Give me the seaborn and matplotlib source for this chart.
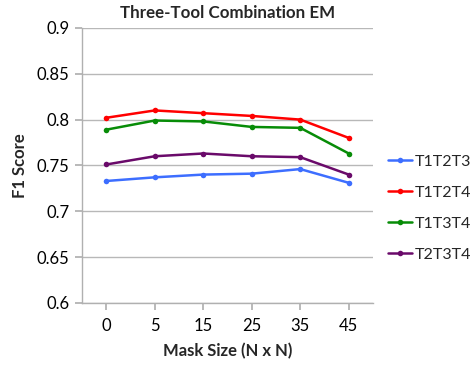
import matplotlib
matplotlib.use("Agg")
import matplotlib.pyplot as plt
import seaborn as sns
import pandas as pd

# Mask sizes (categorical x axis) and F1 scores for each three-tool combination
mask_sizes = ["0", "5", "15", "25", "35", "45"]
t1t2t3 = [0.733, 0.737, 0.740, 0.741, 0.746, 0.731]
t1t2t4 = [0.802, 0.810, 0.807, 0.804, 0.800, 0.780]
t1t3t4 = [0.789, 0.799, 0.798, 0.792, 0.791, 0.763]
t2t3t4 = [0.751, 0.760, 0.763, 0.760, 0.759, 0.740]

series_names = ["T1T2T3", "T1T2T4", "T1T3T4", "T2T3T4"]
series_values = [t1t2t3, t1t2t4, t1t3t4, t2t3t4]
palette = ["#3D6EFF", "#FF0000", "#078C07", "#6A0A6A"]

rows = []
for name, vals in zip(series_names, series_values):
    for i, (m, v) in enumerate(zip(mask_sizes, vals)):
        rows.append({"pos": i, "mask": m, "combo": name, "f1": v})
df = pd.DataFrame(rows)

sns.set_theme(style="white")
plt.rcParams["font.family"] = ["Lato", "DejaVu Sans"]

fig = plt.figure(figsize=(4.74, 3.68), dpi=100)
ax = fig.add_axes([0.173, 0.177, 0.614, 0.747])

sns.lineplot(data=df, x="pos", y="f1", hue="combo", palette=palette,
             marker="o", markersize=4, markeredgewidth=0, linewidth=1.8,
             ax=ax, legend=True)

ax.set_xlim(-0.5, 5.5)
ax.set_ylim(0.6, 0.9)
ax.set_yticks([0.6, 0.65, 0.7, 0.75, 0.8, 0.85, 0.9])
ax.set_yticklabels(["0.6", "0.65", "0.7", "0.75", "0.8", "0.85", "0.9"])
ax.set_xticks(range(len(mask_sizes)))
ax.set_xticklabels(mask_sizes)
ax.yaxis.grid(True, color="#B8B8B8", linewidth=1)
ax.xaxis.grid(False)

for side in ["top", "right"]:
    ax.spines[side].set_visible(False)
for side in ["left", "bottom"]:
    ax.spines[side].set_color("#B0B0B0")
    ax.spines[side].set_linewidth(1)

ax.tick_params(axis="x", direction="out", length=5, color="#B0B0B0",
               bottom=True, labelsize=12, pad=6)
ax.tick_params(axis="y", direction="out", length=5, color="#B0B0B0",
               left=True, labelsize=12, pad=4)
for lbl in ax.get_xticklabels() + ax.get_yticklabels():
    lbl.set_color("black")

ax.set_xlabel("Mask Size (N x N)", fontsize=12, fontweight="bold", labelpad=6)
ax.set_ylabel("F1 Score", fontsize=12, fontweight="bold", labelpad=6)
ax.set_title("Three-Tool Combination EM", fontsize=12.2, fontweight="bold", pad=7)

leg = ax.legend(loc="center left", bbox_to_anchor=(1.03, 0.345), frameon=False,
                fontsize=11.5, handlelength=1.5, handletextpad=0.15,
                labelspacing=1.05, borderaxespad=0.0)
for h in leg.legend_handles:
    h.set_markersize(4)

fig.savefig("out.png", dpi=100)
